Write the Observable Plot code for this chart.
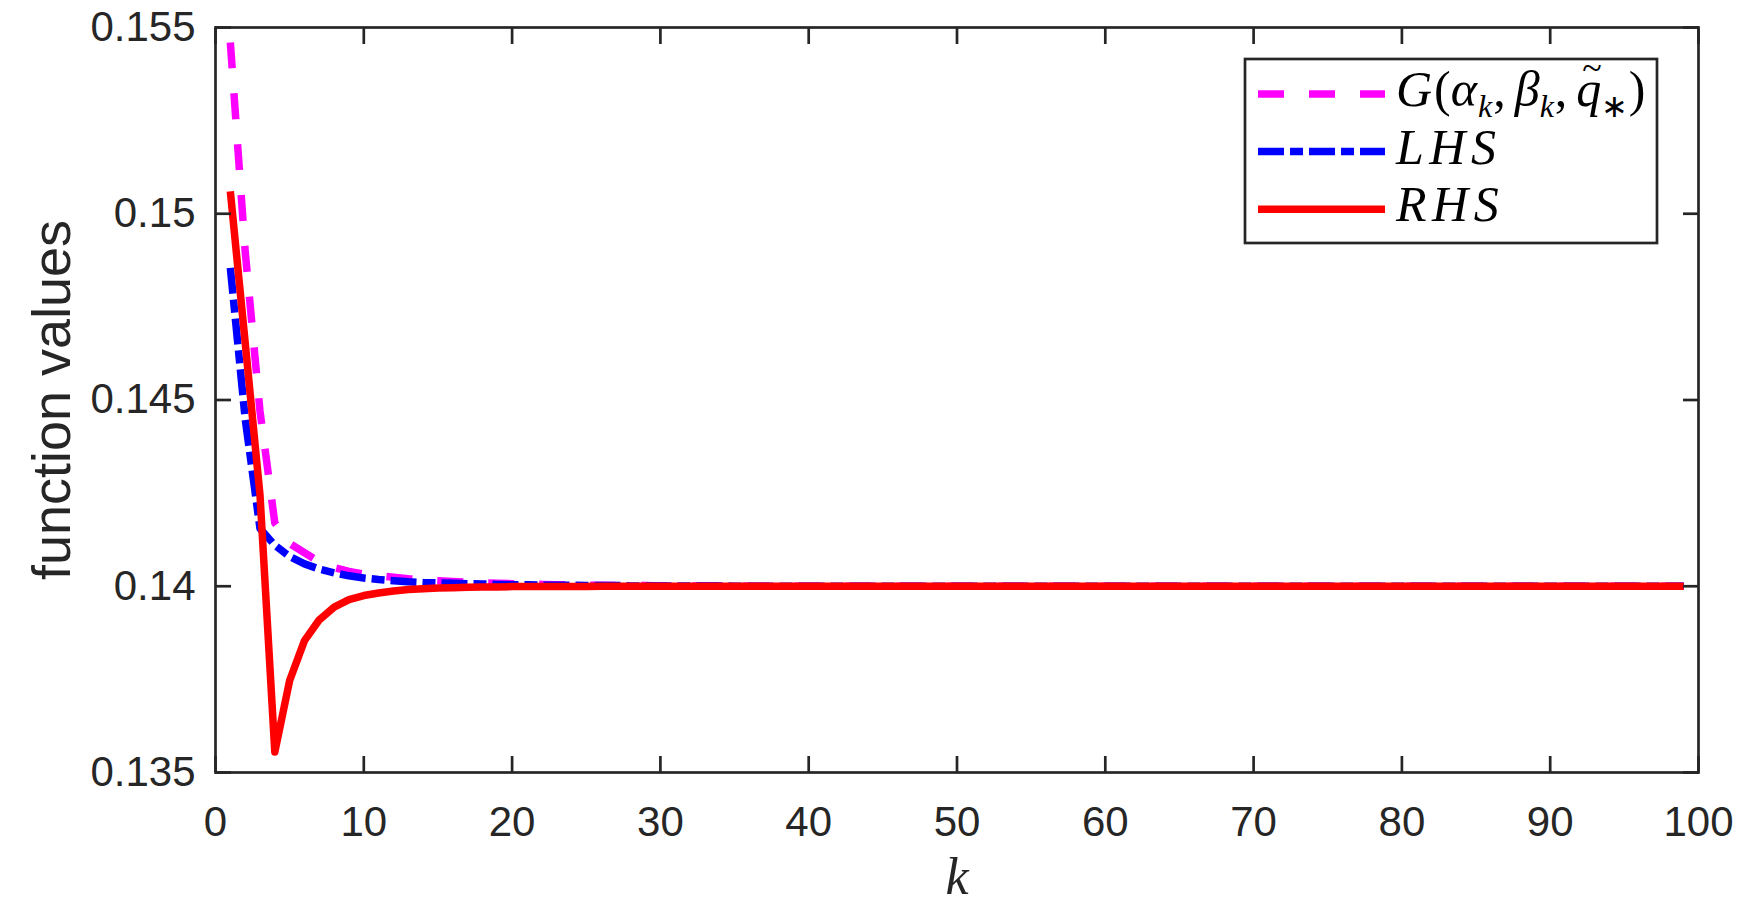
<!DOCTYPE html>
<html><head><meta charset="utf-8">
<script src="https://cdn.jsdelivr.net/npm/d3@7"></script>
<script src="https://cdn.jsdelivr.net/npm/@observablehq/plot@0.6"></script>
<style>
html,body{margin:0;padding:0;background:#fff;}
#chart{width:1750px;height:920px;}
</style></head><body><div id="chart"></div>
<script>
const kValues = [
  1,2,3,4,5,6,7,8,9,10,
  11,12,13,14,15,16,17,18,19,20,
  21,22,23,24,25,26,27,28,29,30,
  31,32,33,34,35,36,37,38,39,40,
  41,42,43,44,45,46,47,48,49,50,
  51,52,53,54,55,56,57,58,59,60,
  61,62,63,64,65,66,67,68,69,70,
  71,72,73,74,75,76,77,78,79,80,
  81,82,83,84,85,86,87,88,89,90,
  91,92,93,94,95,96,97,98,99
];
const gValues = [
  0.1546,0.1490,0.1447,0.1417,0.14115,0.1409,0.14065,0.1405,0.1404,0.14033,
  0.14028,0.14024,0.1402,0.14017,0.14015,0.14013,0.14011,0.14009,0.14008,0.14007,
  0.14006,0.14005,0.14004,0.14004,0.14003,0.14003,0.14002,0.14002,0.14002,0.14001,
  0.14001,0.14001,0.14001,0.14001,0.14001,0.14,0.14,0.14,0.14,0.14,
  0.14,0.14,0.14,0.14,0.14,0.14,0.14,0.14,0.14,0.14,
  0.14,0.14,0.14,0.14,0.14,0.14,0.14,0.14,0.14,0.14,
  0.14,0.14,0.14,0.14,0.14,0.14,0.14,0.14,0.14,0.14,
  0.14,0.14,0.14,0.14,0.14,0.14,0.14,0.14,0.14,0.14,
  0.14,0.14,0.14,0.14,0.14,0.14,0.14,0.14,0.14,0.14,
  0.14,0.14,0.14,0.14,0.14,0.14,0.14,0.14,0.14
];
const lhsValues = [
  0.14855,0.1445,0.14155,0.1411,0.1408,0.1406,0.14046,0.14036,0.14028,0.14022,
  0.14018,0.14015,0.14012,0.1401,0.14009,0.14008,0.14007,0.14006,0.14005,0.14004,
  0.14004,0.14003,0.14003,0.14003,0.14002,0.14002,0.14002,0.14001,0.14001,0.14001,
  0.14001,0.14001,0.14001,0.14001,0.14,0.14,0.14,0.14,0.14,0.14,
  0.14,0.14,0.14,0.14,0.14,0.14,0.14,0.14,0.14,0.14,
  0.14,0.14,0.14,0.14,0.14,0.14,0.14,0.14,0.14,0.14,
  0.14,0.14,0.14,0.14,0.14,0.14,0.14,0.14,0.14,0.14,
  0.14,0.14,0.14,0.14,0.14,0.14,0.14,0.14,0.14,0.14,
  0.14,0.14,0.14,0.14,0.14,0.14,0.14,0.14,0.14,0.14,
  0.14,0.14,0.14,0.14,0.14,0.14,0.14,0.14,0.14
];
const rhsValues = [
  0.1506,0.14655,0.14245,0.13555,0.13747,0.13854,0.1391,0.13944,0.13964,0.13975,
  0.13982,0.13987,0.13991,0.13993,0.13995,0.13996,0.13997,0.13998,0.13998,0.13999,
  0.13999,0.13999,0.13999,0.13999,0.13999,0.14,0.14,0.14,0.14,0.14,
  0.14,0.14,0.14,0.14,0.14,0.14,0.14,0.14,0.14,0.14,
  0.14,0.14,0.14,0.14,0.14,0.14,0.14,0.14,0.14,0.14,
  0.14,0.14,0.14,0.14,0.14,0.14,0.14,0.14,0.14,0.14,
  0.14,0.14,0.14,0.14,0.14,0.14,0.14,0.14,0.14,0.14,
  0.14,0.14,0.14,0.14,0.14,0.14,0.14,0.14,0.14,0.14,
  0.14,0.14,0.14,0.14,0.14,0.14,0.14,0.14,0.14,0.14,
  0.14,0.14,0.14,0.14,0.14,0.14,0.14,0.14,0.14
];
const xTicks = [0,10,20,30,40,50,60,70,80,90,100];
const xTickLabels = ["0","10","20","30","40","50","60","70","80","90","100"];
const yTicks = [0.135,0.14,0.145,0.15,0.155];
const yTickLabels = ["0.135","0.14","0.145","0.15","0.155"];
const seriesNames = ["G", "LHS", "RHS"];
const seriesColors = ["#ff00ff", "#0000ff", "#ff0000"];
const seriesDash = ["26,25", "26,6,13,6", null];
const xLabel = "k";
const yLabel = "function values";

const toRows = vals => kValues.map((k, i) => ({k, v: vals[i]}));
const seriesData = [toRows(gValues), toRows(lhsValues), toRows(rhsValues)];

const ink = "#262626";
const tickFont = "Liberation Sans, Arial, Helvetica, sans-serif";
const mathFont = "Liberation Serif, Times New Roman, serif";

const lineMarks = seriesData.map((data, i) => Plot.line(data, {
  x: "k", y: "v", stroke: seriesColors[i], strokeWidth: 7.5,
  strokeDasharray: seriesDash[i] || undefined,
  strokeLinejoin: "round", strokeLinecap: "butt"
}));

const tickOpts = {tickSize: -16, tickFormat: () => "", stroke: ink, strokeWidth: 2.7, label: null};

const chart = Plot.plot({
  width: 1750, height: 920,
  marginLeft: 215, marginRight: 52, marginTop: 27, marginBottom: 148,
  style: {background: "#fff", fontFamily: tickFont, color: ink},
  x: {domain: [0, 100]},
  y: {domain: [0.135, 0.155]},
  marks: [
    ...lineMarks,
    Plot.frame({stroke: ink, strokeWidth: 2.7}),
    Plot.axisX(xTicks, {anchor: "bottom", ...tickOpts}),
    Plot.axisX(xTicks, {anchor: "top", ...tickOpts}),
    Plot.axisY(yTicks, {anchor: "left", ...tickOpts}),
    Plot.axisY(yTicks, {anchor: "right", ...tickOpts}),
    Plot.axisX(xTicks, {anchor: "bottom", tickSize: 0, tickPadding: 34, fontSize: 42, fill: ink, label: null,
      tickFormat: d => xTickLabels[xTicks.indexOf(d)]}),
    Plot.axisY(yTicks, {anchor: "left", tickSize: 0, tickPadding: 20, fontSize: 42, fill: ink, label: null,
      tickFormat: d => yTickLabels[yTicks.indexOf(d)]}),
    Plot.text([xLabel], {frameAnchor: "bottom", dy: 121, lineAnchor: "bottom", text: d => d,
      fontSize: 52, fontStyle: "italic", fontFamily: mathFont, fill: ink}),
    Plot.text([yLabel], {frameAnchor: "left", dx: -146, rotate: -90, lineAnchor: "bottom", textAnchor: "middle",
      text: d => d, fontSize: 54, fontFamily: tickFont, fill: ink})
  ]
});
document.getElementById("chart").appendChild(chart);

// Legend
const svg = d3.select(chart);
const lg = svg.append("g").attr("text-anchor", "start");
lg.append("rect").attr("x", 1245).attr("y", 59).attr("width", 412).attr("height", 184)
  .attr("fill", "#fff").attr("stroke", ink).attr("stroke-width", 2.7);
seriesNames.forEach((name, i) => {
  const y = 94 + i * 57.6;
  const ln = lg.append("line").attr("x1", 1258).attr("x2", 1385).attr("y1", y).attr("y2", y)
    .attr("stroke", seriesColors[i]).attr("stroke-width", 7.5).attr("stroke-linecap", "butt");
  if (seriesDash[i]) ln.attr("stroke-dasharray", seriesDash[i]);
  const t = lg.append("text").attr("x", 1396).attr("y", y + 12).attr("text-anchor", "start")
    .attr("font-family", mathFont).attr("font-size", 50).attr("font-style", "italic").attr("fill", "#000");
  if (name === "G") {
    const sub = 32, shift = 11;
    t.append("tspan").text("G");
    t.append("tspan").attr("font-style", "normal").attr("dx", 2).text("(");
    t.append("tspan").text("α");
    t.append("tspan").attr("font-size", sub).attr("dy", shift).attr("dx", 1).text("k");
    t.append("tspan").attr("font-style", "normal").attr("dy", -shift).attr("dx", 1).text(",");
    t.append("tspan").attr("dx", 9).text("β");
    t.append("tspan").attr("font-size", sub).attr("dy", shift).attr("dx", 0).text("k");
    t.append("tspan").attr("font-style", "normal").attr("dy", -shift).attr("dx", 1).text(",");
    t.append("tspan").attr("dx", 9).text("q");
    t.append("tspan").attr("font-style", "normal").attr("dx", -19).attr("dy", -26).attr("font-size", 36).text("~");
    t.append("tspan").attr("font-size", sub).attr("dy", 37).attr("dx", -1).attr("font-style", "normal").text("∗");
    t.append("tspan").attr("font-style", "normal").attr("dy", -shift).attr("dx", 1).text(")");
  } else {
    t.attr("letter-spacing", 5.5).text(name);
  }
});
</script>
</body></html>
